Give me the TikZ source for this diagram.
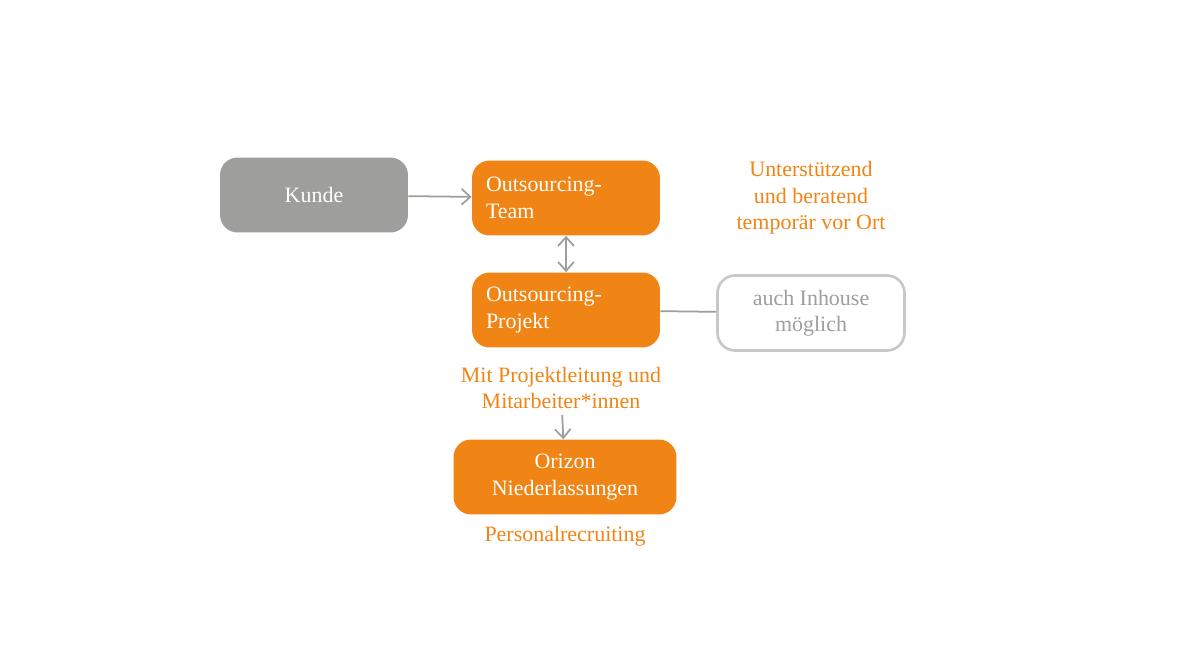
\documentclass[tikz,border=0pt]{standalone}
\usepackage{fontspec}
\setmainfont{Liberation Serif}
\usetikzlibrary{positioning,arrows.meta}
\definecolor{orizon}{RGB}{240,132,20}
\definecolor{kgray}{RGB}{158,158,156}
\definecolor{lgray}{RGB}{200,200,200}
\tikzset{>={Straight Barb[length=5pt,width=9pt]},
  box/.style={rounded corners=10pt,minimum height=1.5cm,font=\fontsize{12.5}{15}\selectfont,text=white},
  obox/.style={box,fill=orizon,minimum width=3.76cm},
  note/.style={text=orizon,align=center,font=\fontsize{12.5}{15}\selectfont},
  link/.style={kgray,line width=1pt}}
\begin{document}
\begin{tikzpicture}[x=0.02cm,y=-0.02cm]
    \useasboundingbox (0,0) rectangle (1200,666);
    \node [box,fill=kgray,minimum width=3.76cm] (kunde) at (314,195) {Kunde};
    \node [obox,align=left,text width=3.2cm] (team) at (566,198) {Outsourcing-\\Team};
    \node [obox,align=left,text width=3.2cm] (projekt) at (566,310) {Outsourcing-\\Projekt};
    \node [box,draw=lgray,line width=1.5pt,fill=white,text=kgray,align=center,
           minimum width=3.74cm] (inhouse) at (811,313) {auch Inhouse\\möglich};
    \node [obox,align=center,minimum width=4.46cm] (orizon) at (565,477) {Orizon\\Niederlassungen};
    \node [note] (support) at (811,198) {Unterstützend\\und beratend\\temporär vor Ort};
    \node [note] (leitung) at (561,388) {Mit Projektleitung und\\Mitarbeiter*innen};
    \node [note] (recruit) at (565,536) {Personalrecruiting};
    \draw [link,->] (kunde) -- (team);
    \draw [link,<->] (team) -- (projekt);
    \draw [link] (projekt) -- (inhouse);
    \draw [link,->] (leitung) -- (orizon);
\end{tikzpicture}
\end{document}
